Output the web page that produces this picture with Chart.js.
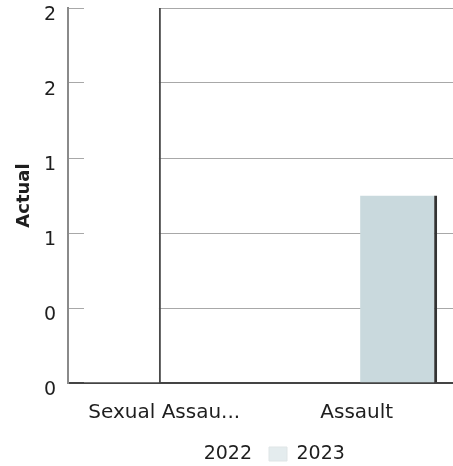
<!DOCTYPE html>
<html>
<head>
<meta charset="utf-8">
<script src="https://cdn.jsdelivr.net/npm/chart.js@4/dist/chart.umd.min.js"></script>
<style>
  html, body { margin: 0; padding: 0; background: #ffffff; }
  #wrap { width: 453px; height: 466px; }
</style>
</head>
<body>
<div id="wrap"><canvas id="chart"></canvas></div>
<script>
// Incident categories on the x axis
const categories = ['Sexual Assau...', 'Assault'];
// Yearly counts per category
const values2022 = [2, 0];
const values2023 = [0, 1];
// Y axis range and step
const yMin = 0;
const yMax = 2;
const yStep = 0.4;

const FONT = 'DejaVu Sans';
const TEXT = '#1e1e1e';

new Chart(document.getElementById('chart'), {
  type: 'bar',
  data: {
    labels: categories,
    datasets: [
      {
        label: '2022',
        data: values2022,
        backgroundColor: '#ffffff',
        borderColor: '#4a4a4a',
        borderWidth: { top: 0, left: 0, bottom: 0, right: 2 },
        borderSkipped: false
      },
      {
        label: '2023',
        data: values2023,
        backgroundColor: '#c9d9dd',
        borderColor: '#333333',
        borderWidth: { top: 0, left: 0, bottom: 0, right: 3 },
        borderSkipped: false
      }
    ]
  },
  options: {
    responsive: true,
    maintainAspectRatio: false,
    animation: false,
    devicePixelRatio: 1,
    datasets: {
      bar: { categoryPercentage: 0.87, barPercentage: 0.92 }
    },
    layout: { padding: { top: 0, left: 0, right: 0, bottom: -7.5 } },
    plugins: {
      tooltip: { enabled: false },
      legend: {
        position: 'bottom',
        fullSize: false,
        labels: {
          font: { family: FONT, size: 19 },
          color: TEXT,
          boxWidth: 18,
          boxHeight: 14,
          padding: 17,
          generateLabels: (chart) => {
            const base = Chart.defaults.plugins.legend.labels.generateLabels(chart);
            return base.map((item, i) => Object.assign(item, {
              fillStyle: i === 0 ? '#ffffff' : '#e4ecee',
              strokeStyle: i === 0 ? '#ffffff' : '#dfe5e6',
              lineWidth: 1
            }));
          }
        }
      }
    },
    scales: {
      x: {
        grid: { display: false, drawTicks: false },
        border: { display: true, color: '#444444', width: 2 },
        ticks: {
          font: { family: FONT, size: 20 },
          color: TEXT,
          padding: 18,
          maxRotation: 0,
          autoSkip: false
        },
        afterFit: (scale) => { scale.height = 44.5; }
      },
      y: {
        min: yMin,
        max: yMax,
        grid: { color: '#a8a8a8', lineWidth: 1, drawTicks: false },
        border: { display: true, color: '#8a8a8a', width: 2 },
        ticks: {
          stepSize: yStep,
          font: { family: FONT, size: 19 },
          color: TEXT,
          padding: 12,
          labelOffset: 7,
          callback: (v) => String(Math.round(v))
        },
        title: {
          display: true,
          text: 'Actual',
          font: { family: FONT, size: 18, weight: 'bold' },
          color: TEXT,
          padding: { top: 14, bottom: 4 }
        },
        afterFit: (scale) => {
          scale.width = 68;
          scale.paddingTop = 8;
          scale.paddingBottom = 0;
        }
      }
    }
  }
});
</script>
</body>
</html>
